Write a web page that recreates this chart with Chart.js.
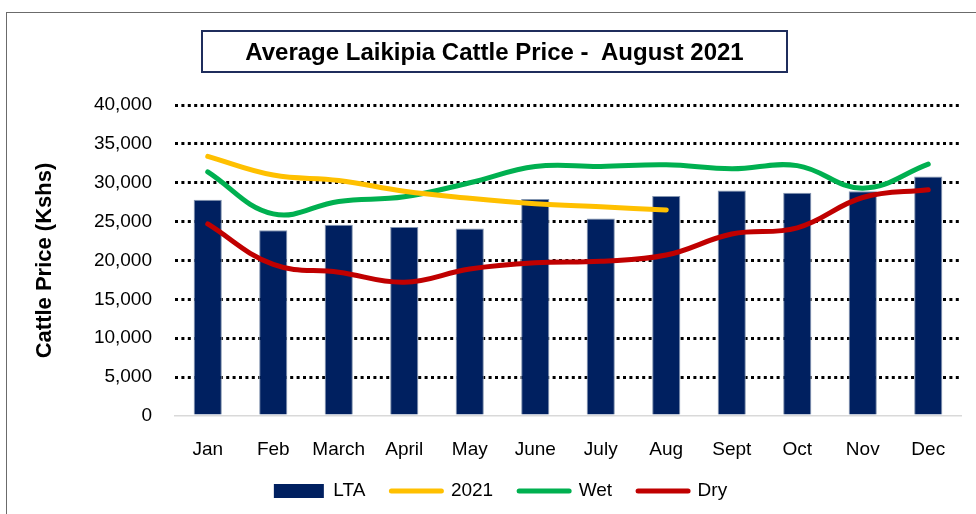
<!DOCTYPE html>
<html>
<head>
<meta charset="utf-8">
<script src="https://cdn.jsdelivr.net/npm/chart.js@4"></script>
<style>
  html, body { margin:0; padding:0; width:976px; height:514px; overflow:hidden; background:#fff; }
  #frame { position:absolute; left:6px; top:12px; width:1000px; height:600px; border:1.5px solid #6b6b6b; box-sizing:border-box; }
  #title { position:absolute; left:201px; top:30px; width:587px; height:43px; box-sizing:border-box;
           border:2px solid #1F2D5C; font-family:"Liberation Sans", Arial, sans-serif; font-weight:bold;
           font-size:24px; line-height:39px; text-align:center; color:#000; white-space:pre; }
  canvas { position:absolute; left:0; top:0; }
</style>
</head>
<body>
<div id="frame"></div>
<canvas id="c" width="976" height="514"></canvas>
<div id="title">Average Laikipia Cattle Price -  August 2021</div>
<script>
const categories = ["Jan","Feb","March","April","May","June","July","Aug","Sept","Oct","Nov","Dec"];
const ltaValues  = [27800, 23900, 24600, 24300, 24100, 27900, 25400, 28300, 29000, 28700, 28900, 30800];
const y2021Values = [33400, 31000, 30300, 28900, 28000, 27300, 26900, 26500, null, null, null, null];
const wetValues  = [31400, 26000, 27600, 28200, 30000, 32100, 32100, 32300, 31800, 32200, 29300, 32400];
const dryValues  = [24700, 19500, 18500, 17200, 18900, 19700, 19900, 20700, 23400, 24200, 28100, 29100];
const yTicks = [0, 5000, 10000, 15000, 20000, 25000, 30000, 35000, 40000];

const FONT = '"Liberation Sans", Arial, sans-serif';
const LEGEND_PAD = 26;

const legendPlace = {
  id: 'legendPlace',
  afterLayout(chart) {
    const lg = chart.legend;
    if (!lg) return;
    const dx = 20;
    lg.left += dx; lg.right += dx;
    lg.top = 491 - LEGEND_PAD - 9.5;
    lg.bottom = chart.height;
    lg.height = lg.bottom - lg.top;
  }
};

new Chart(document.getElementById('c'), {
  data: {
    labels: categories,
    datasets: [
      { type:'bar', label:'LTA', data: ltaValues, backgroundColor:'#002060', borderColor:'#8496b0', borderWidth:1,
        barPercentage:0.43, categoryPercentage:1, order:2 },
      { type:'line', label:'2021', data: y2021Values, borderColor:'#FFC000', borderWidth:5, pointRadius:0,
        tension:0.4, borderCapStyle:'round', fill:false, order:1 },
      { type:'line', label:'Wet', data: wetValues, borderColor:'#00B050', borderWidth:5, pointRadius:0,
        tension:0.4, borderCapStyle:'round', fill:false, order:1 },
      { type:'line', label:'Dry', data: dryValues, borderColor:'#C00000', borderWidth:5, pointRadius:0,
        tension:0.4, borderCapStyle:'round', fill:false, order:1 }
    ]
  },
  plugins: [legendPlace],
  options: {
    responsive:false,
    animation:false,
    layout: { padding: { top:105, right:15, left:0, bottom:2 } },
    plugins: {
      tooltip: { enabled:false },
      title: { display:false },
      legend: {
        position:'bottom',
        maxHeight: 38,
        labels: {
          font: { family: FONT, size: 19 },
          color:'#000',
          usePointStyle:true,
          pointStyleWidth:50,
          boxHeight:14,
          padding:LEGEND_PAD,
          generateLabels: (chart) => chart.data.datasets.map((ds, i) => ds.type === 'bar'
            ? { text: ds.label, fillStyle: ds.backgroundColor, strokeStyle: ds.backgroundColor, lineWidth: 0,
                pointStyle:'rect', datasetIndex:i, hidden:false, fontColor:'#000' }
            : { text: ds.label, fillStyle: ds.borderColor, strokeStyle: ds.borderColor, lineWidth: 5,
                lineCap:'round', pointStyle:'line', datasetIndex:i, hidden:false, fontColor:'#000' })
        }
      }
    },
    scales: {
      x: {
        grid: { display:false, drawTicks:false },
        border: { display:true, color:'#d9d9d9', width:1.5 },
        ticks: { font: { family: FONT, size: 19 }, color:'#000', padding:22 },
        afterFit: (s) => { s.height = 58; }
      },
      y: {
        min:0, max:40000,
        afterBuildTicks: (s) => { s.ticks = yTicks.map(v => ({ value: v })); },
        grid: {
          drawTicks:false,
          color: (ctx) => (ctx.tick && ctx.tick.value === 0) ? 'rgba(0,0,0,0)' : '#000',
          lineWidth:3,
          borderDash:[3,3.4]
        },
        border: { display:false, dash:[3,3.4] },
        ticks: {
          font: { family: FONT, size: 19 }, color:'#000', padding:23,
          callback: (v) => v.toLocaleString('en-US')
        },
        title: { display:true, text:'Cattle Price (Kshs)', font: { family: FONT, size: 22, weight:'bold' },
                 color:'#000', padding: { top:32, bottom:0 } },
        afterFit: (s) => { s.width = 175; }
      }
    }
  }
});
</script>
</body>
</html>
